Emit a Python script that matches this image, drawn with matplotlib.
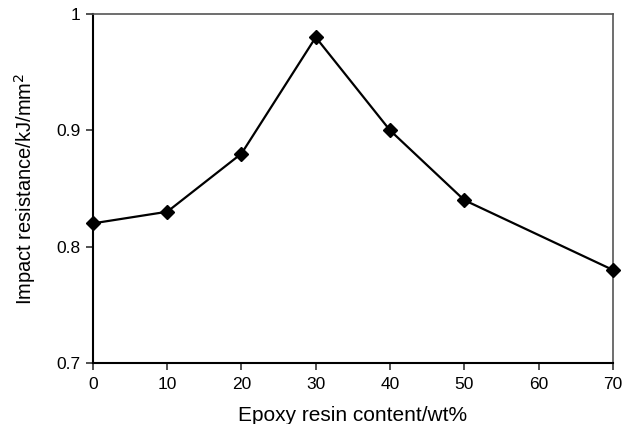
import numpy as np
import matplotlib.pyplot as plt

plt.rcParams['font.family'] = ['Liberation Sans', 'DejaVu Sans']

# データ-----------------------------------------------------------------
epoxy_content = [0, 10, 20, 30, 40, 50, 70]
impact = [0.82, 0.83, 0.88, 0.98, 0.90, 0.84, 0.78]
x_ticks = [0, 10, 20, 30, 40, 50, 60, 70]
y_ticks = [0.7, 0.8, 0.9, 1.0]
y_labels = ['0.7', '0.8', '0.9', '1']

# グラフ出力---------------------------------------------------------------
fig = plt.figure(figsize=(6.24, 4.24), dpi=100)
ax = fig.add_axes([0.149, 0.144, 0.833, 0.823])
ax.plot(epoxy_content, impact, color='black', lw=1.6, marker='D', ms=7,
        clip_on=False, zorder=3)

ax.set_xlim(0, 70)
ax.set_ylim(0.7, 1.0)
ax.set_xticks(x_ticks)
ax.set_yticks(y_ticks)
ax.set_yticklabels(y_labels)
ax.tick_params(direction='out', length=5, width=1.2, labelsize=12.5,
               colors='black', color='#333333')
ax.tick_params(axis='x', pad=5)
ax.tick_params(axis='y', pad=4)

for s in ['left', 'bottom']:
    ax.spines[s].set_linewidth(1.5)
    ax.spines[s].set_color('black')
for s in ['top', 'right']:
    ax.spines[s].set_linewidth(1.2)
    ax.spines[s].set_color('#555555')

ax.set_xlabel('Epoxy resin content/wt%', fontsize=15, labelpad=10)
ax.set_ylabel('Impact resistance/kJ/mm$^2$', fontsize=14.5, labelpad=13)

fig.savefig('out.png', dpi=100)
